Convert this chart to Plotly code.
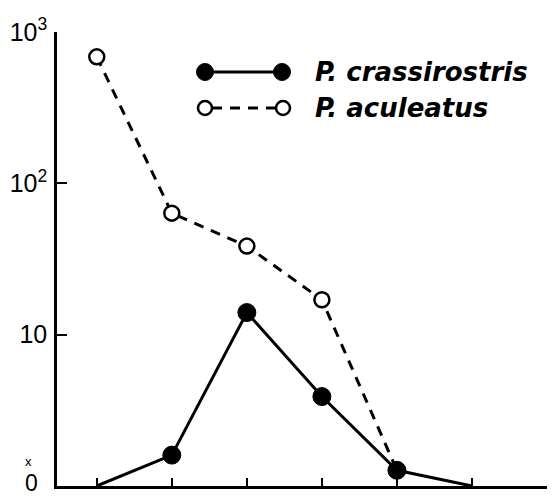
import plotly.graph_objects as go

# data (zeros are drawn on the baseline, labelled "0")
positions = [1, 2, 3, 4, 5, 6]
crassirostris = [0, 1.6, 14, 3.9, 1.27, 0]
aculeatus = [685, 63.5, 38.5, 17, 1.27]
ytick_vals = [10, 100, 1000]
ytick_text = ["10", "10<sup>2</sup>", "10<sup>3</sup>"]
series_names = ["P. crassirostris", "P. aculeatus"]

BASE = 1  # value at which zero is drawn (bottom of log axis)

def plotted(vals):
    return [v if v > 0 else BASE for v in vals]

fig = go.Figure()
fig.add_trace(go.Scatter(
    x=positions[:len(aculeatus)], y=plotted(aculeatus), mode="lines+markers",
    line=dict(color="black", width=3, dash="10px,8px"),
    marker=dict(symbol="circle", size=15, color="white", opacity=1,
                line=dict(color="black", width=2.5)),
    name=series_names[1], showlegend=False, cliponaxis=False))
fig.add_trace(go.Scatter(
    x=positions, y=plotted(crassirostris), mode="lines+markers",
    line=dict(color="black", width=3),
    marker=dict(symbol="circle", size=[0 if v == 0 else 18 for v in crassirostris],
                color="#000000", opacity=1, line=dict(color="#000000", width=1)),
    name=series_names[0], showlegend=False, cliponaxis=False))

# plot area in px: x 57..547, y 32..486
W, H = 490, 454
def px(xp):
    return (xp - 57) / W
def py(yp):
    return (486 - yp) / H

shapes = []
annotations = []
# legend row 1: solid line with filled circles
y1 = py(72)
shapes.append(dict(type="line", xref="paper", yref="paper", x0=px(205), x1=px(282), y0=y1, y1=y1,
                   line=dict(color="black", width=3)))
for cx in (205, 282):
    r = 8.5
    shapes.append(dict(type="circle", xref="paper", yref="paper",
                       x0=px(cx - r), x1=px(cx + r), y0=py(72 + r), y1=py(72 - r),
                       fillcolor="black", line=dict(color="black", width=1)))
# legend row 2: dashed line with open circles
y2 = py(108)
shapes.append(dict(type="line", xref="paper", yref="paper", x0=px(212), x1=px(276), y0=y2, y1=y2,
                   line=dict(color="black", width=3, dash="10px,8px")))
for cx in (205, 283):
    r = 7
    shapes.append(dict(type="circle", xref="paper", yref="paper",
                       x0=px(cx - r), x1=px(cx + r), y0=py(108 + r), y1=py(108 - r),
                       fillcolor="white", line=dict(color="black", width=2.5)))
for name, yy in zip(series_names, (72, 108)):
    annotations.append(dict(xref="paper", yref="paper", x=px(313), y=py(yy), xanchor="left",
                            yanchor="middle", showarrow=False, text="<b><i>" + name + "</i></b>",
                            font=dict(family="DejaVu Sans", size=26, color="black")))
# zero label with axis-break mark
annotations.append(dict(xref="paper", yref="paper", x=px(31), y=py(483), xanchor="center",
                        yanchor="middle", showarrow=False, text="0",
                        font=dict(family="Liberation Sans", size=23, color="black")))
annotations.append(dict(xref="paper", yref="paper", x=px(28), y=py(461), xanchor="center",
                        yanchor="middle", showarrow=False, text="x",
                        font=dict(family="Liberation Sans", size=13, color="black")))

fig.update_layout(
    width=553, height=499,
    margin=dict(l=57, r=6, t=32, b=13),
    paper_bgcolor="white", plot_bgcolor="white",
    font=dict(family="Liberation Sans", size=25, color="black"),
    shapes=shapes, annotations=annotations,
    xaxis=dict(range=[0.47, 7], tickvals=[1, 2, 3, 4, 5, 6, 7], showticklabels=False,
               ticks="inside", ticklen=8, tickwidth=2, tickcolor="black",
               showline=True, linecolor="black", linewidth=2.5, showgrid=False, zeroline=False),
    yaxis=dict(type="log", range=[0, 3], tickvals=ytick_vals, ticktext=ytick_text,
               ticks="inside", ticklen=10, tickwidth=2, tickcolor="black",
               showline=True, linecolor="black", linewidth=2.5, showgrid=False, zeroline=False,
               ticklabelstandoff=2),
)

fig.write_html("out.html")
